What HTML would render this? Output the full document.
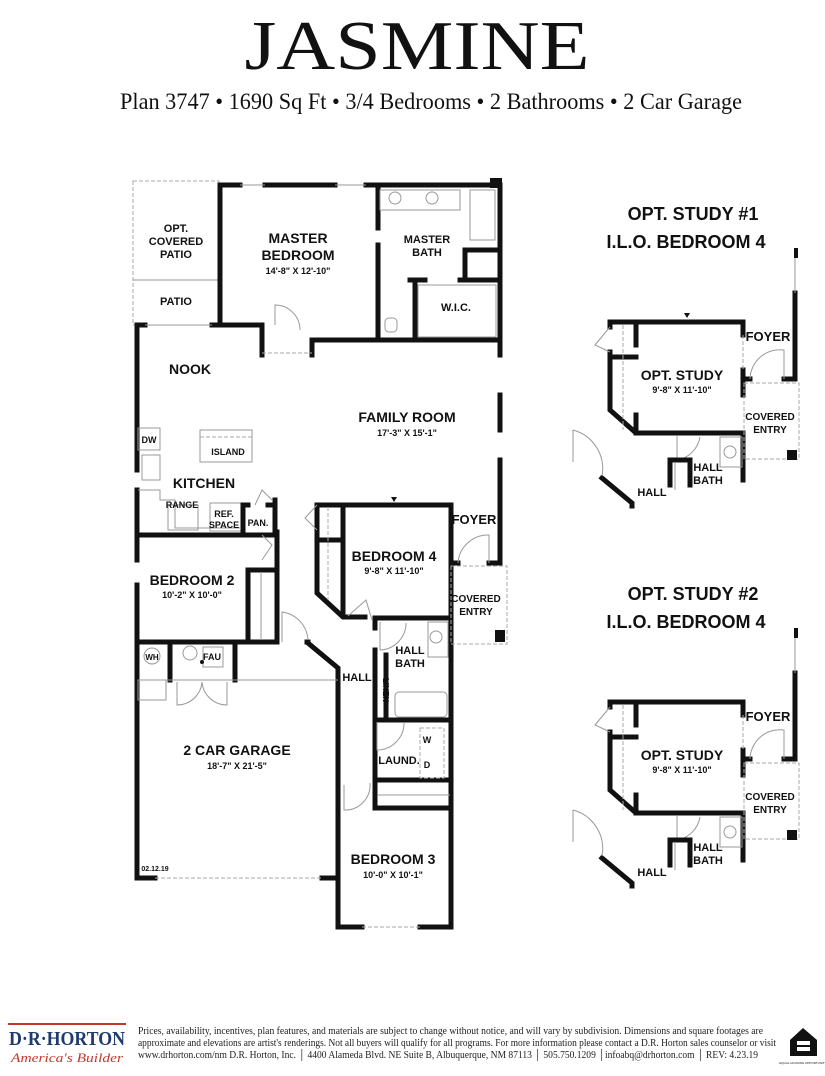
<!DOCTYPE html>
<html><head><meta charset="utf-8"><style>
html,body{margin:0;padding:0;background:#fff;width:825px;height:1076px;overflow:hidden}
svg{display:block}
.w{stroke:#111;stroke-width:5;fill:none;stroke-linecap:square}
.t{stroke:#999;stroke-width:1;fill:none}
.d{stroke:#aaa;stroke-width:1;fill:none;stroke-dasharray:4 2}
.lb{font-family:"Liberation Sans",sans-serif;font-weight:bold;fill:#111;text-anchor:middle}
</style></head><body>
<svg width="825" height="1076" viewBox="0 0 825 1076" xmlns="http://www.w3.org/2000/svg">
<text x="417" y="69" font-family="Liberation Serif,serif" font-size="70" text-anchor="middle" textLength="345" lengthAdjust="spacingAndGlyphs" fill="#111">JASMINE</text>
<text x="431" y="109" font-family="Liberation Serif,serif" font-size="23" text-anchor="middle" textLength="622" lengthAdjust="spacingAndGlyphs" fill="#111">Plan 3747 • 1690 Sq Ft • 3/4 Bedrooms • 2 Bathrooms • 2 Car Garage</text>

<rect x="133" y="181" width="86" height="144" class="d"/>
<line x1="133" y1="280" x2="219" y2="280" class="t"/>
<path class="w" d="M220 185 H240 M265 185 H335 M366 185 H500"/>
<line x1="240" y1="185" x2="265" y2="185" class="t"/><line x1="335" y1="185" x2="366" y2="185" class="t"/>
<rect x="490" y="178" width="12" height="10" fill="#111"/>
<path class="w" d="M220 185 V325 H212 M137 325 H145 M137 325 V470"/>
<line x1="145" y1="325" x2="212" y2="325" class="t"/>
<path class="w" d="M220 325 H262 V355 M312 355 V340 H500"/>
<line x1="262" y1="353" x2="312" y2="353" class="d"/>
<path class="t" d="M275 325 V305 A25 25 0 0 1 300 330"/>
<path class="w" d="M378 185 V228 M378 245 V340"/>
<path class="w" d="M500 185 V355 M500 395 V430 M500 460 V470"/>
<path class="w" d="M415 280 V340 M410 280 H425 M460 280 H500 M465 250 V280 M465 250 H500"/>
<rect x="470" y="190" width="25" height="50" class="t"/>
<rect x="380" y="190" width="80" height="20" class="t"/>
<circle cx="395" cy="198" r="6" class="t"/><circle cx="432" cy="198" r="6" class="t"/>
<rect x="385" y="318" width="12" height="14" class="t" rx="4"/>
<rect x="418" y="285" width="78" height="52" class="t"/>
<path class="w" d="M137 490 V535 H275 V500 M137 532 V560 M137 585 V645"/>
<rect x="138" y="428" width="22" height="22" class="t"/>
<rect x="142" y="455" width="18" height="25" class="t"/>
<path class="t" d="M138 490 H160 V500 H175 V528 H240"/>
<rect x="168" y="505" width="30" height="25" class="t"/>
<rect x="200" y="430" width="52" height="32" class="t"/>
<line x1="200" y1="437" x2="252" y2="437" class="d"/>
<rect x="210" y="503" width="32" height="28" class="t"/>
<path class="w" d="M243 532 V505 H248 M268 505 H275"/>
<path class="t" d="M255 505 L262 490 L272 500"/>
<path class="w" d="M137 642 H277 V532 M248 570 V640 M248 570 H273"/>
<line x1="261" y1="572" x2="261" y2="640" class="t"/>
<path class="t" d="M262 560 L272 545 L262 535"/>
<path class="w" d="M137 642 V878 H155 M322 878 H338"/>
<line x1="155" y1="878" x2="322" y2="878" class="d"/>
<path class="w" d="M170 642 V680 M235 642 V680 M307 642 L308 642 M308 643 L338 668 V927 H362 M420 927 H451 V505"/>
<line x1="362" y1="927" x2="420" y2="927" class="d"/>
<line x1="138" y1="680" x2="338" y2="680" class="t"/>
<rect x="138" y="680" width="28" height="20" class="t"/>
<circle cx="152" cy="656" r="8" class="t"/>
<circle cx="190" cy="653" r="7" class="t"/>
<rect x="203" y="647" width="20" height="20" class="t"/>
<circle cx="202" cy="662" r="2" fill="#111"/>
<path class="t" d="M177 682 V705 A25 25 0 0 0 202 682 M227 682 V705 A25 25 0 0 1 202 682"/>
<path class="t" d="M282 642 V612 A30 30 0 0 1 308 640"/>
<path class="w" d="M317 505 H451 M317 505 V535 M317 540 V593 L343 617 H365 M375 618 H451 M343 510 V615"/>
<path class="w" d="M317 540 H343"/>
<line x1="328" y1="507" x2="328" y2="600" class="d"/>
<path class="t" d="M317 505 L305 518 L317 530"/>
<path class="t" d="M348 616 L366 600 L372 620"/>
<path d="M391 497 L397 497 L394 502Z" fill="#111"/>
<path class="w" d="M451 505 V563 H458 M489 563 H500 V470"/>
<path class="t" d="M458 563 A30 30 0 0 1 489 535 V563"/>
<rect x="451" y="566" width="56" height="78" class="d"/>
<rect x="495" y="630" width="10" height="12" fill="#111"/>
<path class="w" d="M375 618 V628 M375 650 V720 H451 M386 655 V715"/>
<rect x="428" y="622" width="20" height="35" class="t"/>
<circle cx="436" cy="637" r="6" class="t"/>
<rect x="395" y="692" width="52" height="25" rx="4" class="t"/>
<path class="t" d="M380 622 V650 A27 27 0 0 0 406 623"/>
<text class="lb" x="383" y="690" font-size="8" transform="rotate(90 383 690)">LINEN</text>
<path class="w" d="M375 720 V780 H451 M375 785 V808 H451"/>
<rect x="420" y="728" width="24" height="50" class="d"/>
<path class="t" d="M377 722 V750 A27 27 0 0 0 404 722"/>
<line x1="378" y1="795" x2="450" y2="795" class="t"/>
<path class="t" d="M344 785 V810 A25 25 0 0 0 370 783"/>

<g class="lb">
<text x="176" y="232" font-size="11">OPT.</text>
<text x="176" y="245" font-size="11">COVERED</text>
<text x="176" y="258" font-size="11">PATIO</text>
<text x="176" y="305" font-size="11">PATIO</text>
<text x="298" y="243" font-size="14">MASTER</text>
<text x="298" y="260" font-size="14">BEDROOM</text>
<text x="298" y="274" font-size="9">14'-8" X 12'-10"</text>
<text x="427" y="243" font-size="11">MASTER</text>
<text x="427" y="256" font-size="11">BATH</text>
<text x="456" y="311" font-size="11">W.I.C.</text>
<text x="190" y="374" font-size="14">NOOK</text>
<text x="407" y="422" font-size="14">FAMILY ROOM</text>
<text x="407" y="436" font-size="9">17'-3" X 15'-1"</text>
<text x="149" y="443" font-size="9">DW</text>
<text x="228" y="455" font-size="9">ISLAND</text>
<text x="204" y="488" font-size="14">KITCHEN</text>
<text x="182" y="508" font-size="9">RANGE</text>
<text x="224" y="517" font-size="9">REF.</text>
<text x="224" y="528" font-size="9">SPACE</text>
<text x="258" y="526" font-size="9">PAN.</text>
<text x="474" y="524" font-size="13">FOYER</text>
<text x="394" y="561" font-size="14">BEDROOM 4</text>
<text x="394" y="574" font-size="9">9'-8" X 11'-10"</text>
<text x="192" y="585" font-size="14">BEDROOM 2</text>
<text x="192" y="598" font-size="9">10'-2" X 10'-0"</text>
<text x="476" y="602" font-size="10">COVERED</text>
<text x="476" y="615" font-size="10">ENTRY</text>
<text x="152" y="660" font-size="8">WH</text>
<text x="212" y="660" font-size="9">FAU</text>
<text x="410" y="654" font-size="11">HALL</text>
<text x="410" y="667" font-size="11">BATH</text>
<text x="357" y="681" font-size="11">HALL</text>
<text x="237" y="755" font-size="14">2 CAR GARAGE</text>
<text x="237" y="769" font-size="9">18'-7" X 21'-5"</text>
<text x="427" y="743" font-size="9">W</text>
<text x="427" y="768" font-size="9">D</text>
<text x="399" y="764" font-size="11">LAUND.</text>
<text x="393" y="864" font-size="14">BEDROOM 3</text>
<text x="393" y="878" font-size="9">10'-0" X 10'-1"</text>
<text x="155" y="871" font-size="7">02.12.19</text>
</g>

<g id="opt">
<g class="lb">
<text x="693" y="220" font-size="18">OPT. STUDY #1</text>
<text x="686" y="248" font-size="18">I.L.O. BEDROOM 4</text>
</g>
<path class="w" d="M610 322 H743 V335 M743 370 V395 M610 322 V327 M610 352 V410 L636 433 H743 V480"/>
<path class="w" d="M610 357 H636 M636 322 V345 M636 415 V433 M743 379 H750 M784 379 H795 V293"/>
<line x1="795" y1="250" x2="795" y2="293" class="t"/>
<rect x="794" y="248" width="4" height="10" fill="#111"/>
<line x1="623" y1="325" x2="623" y2="430" class="d"/>
<line x1="743" y1="335" x2="743" y2="370" class="d"/>
<path class="t" d="M610 327 L595 345 L610 352"/>
<path class="t" d="M750 379 A30 30 0 0 1 784 350 V379"/>
<rect x="744" y="383" width="55" height="76" class="d"/>
<rect x="787" y="450" width="10" height="10" fill="#111"/>
<path class="w" d="M602 478 L632 503 V506"/>
<path class="t" d="M573 430 A40 40 0 0 1 602 476 M573 430 V462"/>
<path class="t" d="M677 436 V460 A28 28 0 0 0 700 437"/>
<path class="w" d="M670 460 V485 M670 460 H690 V485"/>
<line x1="675" y1="462" x2="675" y2="490" class="t"/>
<rect x="720" y="437" width="22" height="30" class="t"/>
<circle cx="730" cy="452" r="6" class="t"/>
<g class="lb">
<text x="682" y="380" font-size="14">OPT. STUDY</text>
<text x="682" y="393" font-size="9">9'-8" X 11'-10"</text>
<text x="768" y="341" font-size="13">FOYER</text>
<text x="770" y="420" font-size="10">COVERED</text>
<text x="770" y="433" font-size="10">ENTRY</text>
<text x="708" y="471" font-size="11">HALL</text>
<text x="708" y="484" font-size="11">BATH</text>
<text x="652" y="496" font-size="11">HALL</text>
</g>
</g>
<g transform="translate(0,380)">
<g class="lb">
<text x="693" y="220" font-size="18">OPT. STUDY #2</text>
<text x="686" y="248" font-size="18">I.L.O. BEDROOM 4</text>
</g>
<path class="w" d="M610 322 H743 V335 M743 370 V395 M610 322 V327 M610 352 V410 L636 433 H743 V480"/>
<path class="w" d="M610 357 H636 M636 322 V345 M636 415 V433 M743 379 H750 M784 379 H795 V293"/>
<line x1="795" y1="250" x2="795" y2="293" class="t"/>
<rect x="794" y="248" width="4" height="10" fill="#111"/>
<line x1="623" y1="325" x2="623" y2="430" class="d"/>
<line x1="743" y1="335" x2="743" y2="370" class="d"/>
<path class="t" d="M610 327 L595 345 L610 352"/>
<path class="t" d="M750 379 A30 30 0 0 1 784 350 V379"/>
<rect x="744" y="383" width="55" height="76" class="d"/>
<rect x="787" y="450" width="10" height="10" fill="#111"/>
<path class="w" d="M602 478 L632 503 V506"/>
<path class="t" d="M573 430 A40 40 0 0 1 602 476 M573 430 V462"/>
<path class="t" d="M677 436 V460 A28 28 0 0 0 700 437"/>
<path class="w" d="M670 460 V485 M670 460 H690 V485"/>
<line x1="675" y1="462" x2="675" y2="490" class="t"/>
<rect x="720" y="437" width="22" height="30" class="t"/>
<circle cx="730" cy="452" r="6" class="t"/>
<g class="lb">
<text x="682" y="380" font-size="14">OPT. STUDY</text>
<text x="682" y="393" font-size="9">9'-8" X 11'-10"</text>
<text x="768" y="341" font-size="13">FOYER</text>
<text x="770" y="420" font-size="10">COVERED</text>
<text x="770" y="433" font-size="10">ENTRY</text>
<text x="708" y="471" font-size="11">HALL</text>
<text x="708" y="484" font-size="11">BATH</text>
<text x="652" y="496" font-size="11">HALL</text>
</g>
</g>
<path d="M684 313 L690 313 L687 318Z" fill="#111"/>

<rect x="8" y="1023" width="118" height="2" fill="#c0392b"/>
<text x="67" y="1045" font-family="Liberation Serif,serif" font-weight="bold" font-size="20" fill="#1f3a6e" text-anchor="middle" textLength="116" lengthAdjust="spacingAndGlyphs">D·R·HORTON</text>
<text x="67" y="1062" font-family="Liberation Serif,serif" font-style="italic" font-size="13" fill="#c0392b" text-anchor="middle" textLength="112" lengthAdjust="spacingAndGlyphs">America's Builder</text>
<g font-family="Liberation Serif,serif" font-size="10" fill="#222">
<text x="138" y="1034" textLength="625" lengthAdjust="spacingAndGlyphs">Prices, availability, incentives, plan features, and materials are subject to change without notice, and will vary by subdivision. Dimensions and square footages are</text>
<text x="138" y="1046" textLength="638" lengthAdjust="spacingAndGlyphs">approximate and elevations are artist's renderings. Not all buyers will qualify for all programs. For more information please contact a D.R. Horton sales counselor or visit</text>
<text x="138" y="1058" textLength="620" lengthAdjust="spacingAndGlyphs">www.drhorton.com/nm D.R. Horton, Inc.  │ 4400 Alameda Blvd. NE Suite B, Albuquerque, NM 87113 │ 505.750.1209 │infoabq@drhorton.com  │ REV: 4.23.19</text>
</g>
<path d="M790 1040 L803 1028 L817 1040 V1056 H790Z" fill="#111"/>
<rect x="797" y="1041" width="13" height="4" fill="#fff"/>
<rect x="797" y="1047" width="13" height="4" fill="#fff"/>
<text x="803" y="1064" font-family="Liberation Sans,sans-serif" font-size="3" text-anchor="middle" fill="#111">EQUAL HOUSING OPPORTUNITY</text>
</svg>
</body></html>
